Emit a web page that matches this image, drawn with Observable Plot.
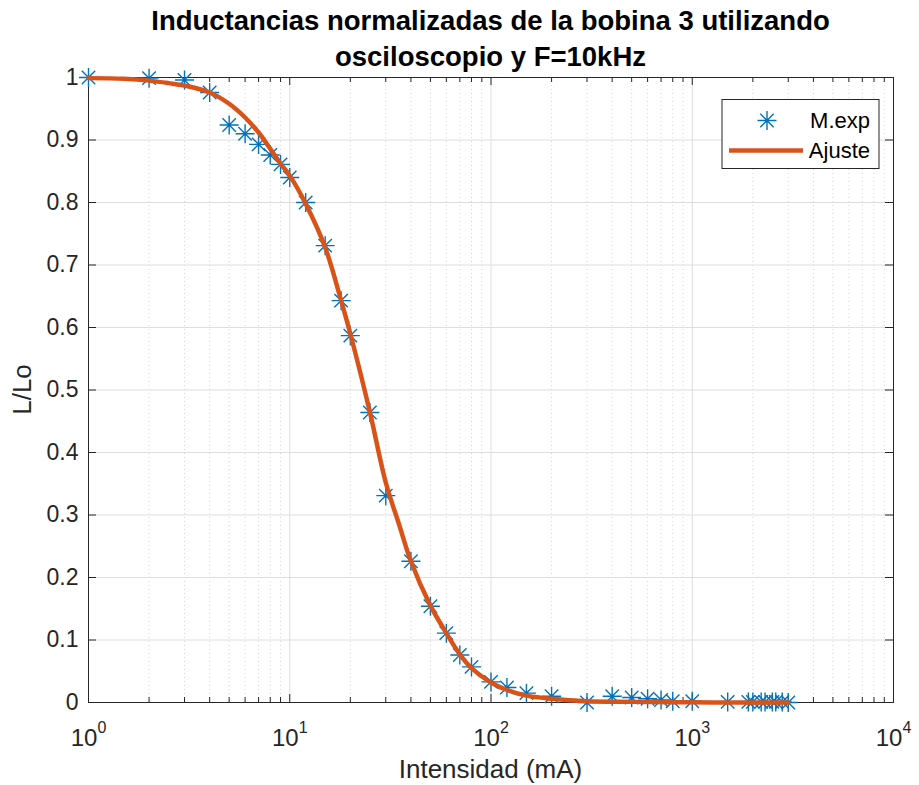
<!DOCTYPE html>
<html>
<head>
<meta charset="utf-8">
<script src="https://cdn.jsdelivr.net/npm/d3@7"></script>
<script src="https://cdn.jsdelivr.net/npm/@observablehq/plot@0.6"></script>
<style>
  body { margin: 0; background: #fff; }
  #wrap { position: relative; width: 919px; height: 785px; font-family: "Liberation Sans", Arial, Helvetica, sans-serif; }
  #title { position: absolute; left: 88px; width: 805px; top: 3px; text-align: center; font-weight: bold;
           font-size: 27.5px; line-height: 36px; color: #000; white-space: nowrap; }
  #wrap svg { display: block; }
</style>
</head>
<body>
<div id="wrap">
  <div id="title">Inductancias normalizadas de la bobina 3 utilizando<br>osciloscopio y F=10kHz</div>
</div>
<script>
// Measured points: current (mA) and normalized inductance L/Lo
const measCurrent = [1, 2, 3, 4, 5, 6, 7, 8, 9, 10, 12, 15, 18, 20, 25, 30, 40, 50, 60, 70, 80, 100, 120, 150,
  200, 300, 400, 500, 600, 700, 800, 1000, 1500, 1900, 2000, 2200, 2300, 2500, 2600, 2800, 3000];
const measL = [1.000, 0.999, 0.996, 0.976, 0.924, 0.910, 0.893, 0.876, 0.861, 0.840, 0.800, 0.731, 0.643, 0.587,
  0.464, 0.331, 0.226, 0.154, 0.111, 0.076, 0.057, 0.033, 0.024, 0.015,
  0.010, 0.000, 0.010, 0.008, 0.006, 0.004, 0.002, 0.002, 0.001, 0.001, 0.001, 0.001, 0.001, 0.001, 0.001, 0.001, 0.000];

// Fitted curve samples
const fitCurrent = [1, 1.5, 2, 2.5, 3, 4, 5, 6, 7, 8, 9, 10, 12, 15, 18, 20, 25, 30, 35, 40, 50, 60, 70, 80,
  100, 120, 150, 200, 300, 500, 1000, 2000, 3000];
const fitL = [0.999, 0.998, 0.995, 0.991, 0.987, 0.976, 0.958, 0.936, 0.912, 0.886, 0.862, 0.843, 0.798, 0.728,
  0.643, 0.590, 0.465, 0.352, 0.284, 0.226, 0.155, 0.111, 0.077, 0.055,
  0.032, 0.020, 0.011, 0.006, 0.002, 0.001, 0.0003, 0.0001, 0.0];

// Axis ticks
const xMajorTicks = [1, 10, 100, 1000, 10000];
const xMinorTicks = [];
for (const dec of [1, 10, 100, 1000]) for (let m = 2; m <= 9; m++) xMinorTicks.push(m * dec);
const yTicks = [0, 0.1, 0.2, 0.3, 0.4, 0.5, 0.6, 0.7, 0.8, 0.9, 1];

const seriesNames = ["M.exp", "Ajuste"];
const xLabel = "Intensidad (mA)";
const yLabel = "L/Lo";

const blue = "#0072BD", orange = "#D95319", axisColor = "#262626";
const W = 919, H = 785, mt = 77, mr = 26, mb = 83, ml = 88;
const plotH = H - mt - mb;

// 8-armed asterisk marker
const asterisk8 = {
  draw(context, size) {
    const r = Math.sqrt(size / Math.PI);
    const d = r * Math.SQRT1_2;
    context.moveTo(-r, 0); context.lineTo(r, 0);
    context.moveTo(0, -r); context.lineTo(0, r);
    context.moveTo(-d, -d); context.lineTo(d, d);
    context.moveTo(-d, d); context.lineTo(d, -d);
  }
};

const meas = measCurrent.map((c, i) => ({c, l: measL[i]}));
const fit = fitCurrent.map((c, i) => ({c, l: fitL[i]}));

const plot = Plot.plot({
  width: W, height: H,
  marginTop: mt, marginRight: mr, marginBottom: mb, marginLeft: ml,
  style: {fontFamily: '"Liberation Sans", Arial, Helvetica, sans-serif', color: axisColor, background: "white"},
  x: {type: "log", domain: [1, 10000]},
  y: {domain: [0, 1]},
  marks: [
    Plot.ruleX(xMinorTicks, {x: d => d, stroke: "#d4d4d4", strokeDasharray: "1,3", strokeWidth: 1}),
    Plot.ruleX(xMajorTicks, {x: d => d, stroke: "#dedede", strokeWidth: 1}),
    Plot.ruleY(yTicks, {y: d => d, stroke: "#dedede", strokeWidth: 1}),
    // inward ticks on all four sides
    Plot.tickX(xMajorTicks, {x: d => d, insetTop: plotH - 8, stroke: axisColor}),
    Plot.tickX(xMajorTicks, {x: d => d, insetBottom: plotH - 8, stroke: axisColor}),
    Plot.tickX(xMinorTicks, {x: d => d, insetTop: plotH - 5, stroke: axisColor}),
    Plot.tickX(xMinorTicks, {x: d => d, insetBottom: plotH - 5, stroke: axisColor}),
    Plot.tickY(yTicks, {y: d => d, insetRight: (W - ml - mr) - 8, stroke: axisColor}),
    Plot.tickY(yTicks, {y: d => d, insetLeft: (W - ml - mr) - 8, stroke: axisColor}),
    Plot.frame({stroke: axisColor, strokeWidth: 1}),
    Plot.axisX({ticks: xMajorTicks, tickSize: 0, tickPadding: 26, fontSize: 24, label: null,
      tickFormat: d => "10^" + Math.round(Math.log10(d))}),
    Plot.axisY({ticks: yTicks, tickSize: 0, tickPadding: 10, fontSize: 23, label: null,
      tickFormat: d => String(+d.toFixed(1))}),
    Plot.dot(meas, {x: "c", y: "l", symbol: asterisk8, r: 9.5, stroke: blue, strokeWidth: 1.4, fill: "none"}),
    Plot.line(fit, {x: "c", y: "l", stroke: orange, strokeWidth: 4.5, curve: "catmull-rom"})
  ]
});

document.getElementById("wrap").appendChild(plot);

const svg = d3.select(plot);

// Superscript exponents on the log-axis labels
svg.selectAll('g[aria-label="x-axis tick label"] text').each(function () {
  const t = d3.select(this);
  const s = t.text();
  const exp = s.split("^")[1];
  t.text(null);
  t.append("tspan").text("10");
  t.append("tspan").attr("font-size", "16px").attr("dy", "-0.8em").text(exp);
});

// Axis titles
svg.append("text")
  .attr("x", ml + (W - ml - mr) / 2).attr("y", 778)
  .attr("text-anchor", "middle").attr("font-size", 26).attr("fill", axisColor)
  .text(xLabel);
svg.append("text")
  .attr("transform", `translate(31,${mt + plotH / 2}) rotate(-90)`)
  .attr("text-anchor", "middle").attr("font-size", 26).attr("fill", axisColor)
  .text(yLabel);

// Legend
const lg = svg.append("g").attr("transform", "translate(722,99.5)");
lg.append("rect").attr("width", 157).attr("height", 69).attr("fill", "white").attr("stroke", axisColor).attr("stroke-width", 1);
lg.append("path")
  .attr("transform", "translate(45,21)")
  .attr("d", d3.symbol(asterisk8, Math.PI * 90)())
  .attr("fill", "none").attr("stroke", blue).attr("stroke-width", 1.4);
lg.append("line").attr("x1", 7).attr("x2", 81).attr("y1", 51).attr("y2", 51)
  .attr("stroke", orange).attr("stroke-width", 4.5);
lg.selectAll("text.lt").data(seriesNames).join("text")
  .attr("x", 148).attr("y", (d, i) => 21 + i * 30).attr("dy", "0.35em")
  .attr("text-anchor", "end").attr("font-size", 22).attr("fill", "#000")
  .text(d => d);
</script>
</body>
</html>
